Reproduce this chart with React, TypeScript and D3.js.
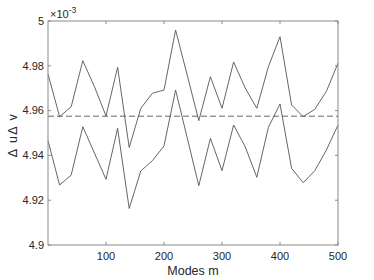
import * as d3 from "d3";

const modes = [0, 20, 40, 60, 80, 100, 120, 140, 160, 180, 200, 220, 240, 260, 280, 300, 320, 340, 360, 380, 400, 420, 440, 460, 480, 500];

const upper = [
  4.97634, 4.95728, 4.96174, 4.98228, 4.97076, 4.95759, 4.97933, 4.94353, 4.96103, 4.96772,
  4.9692, 4.99598, 4.97589, 4.95549, 4.97513, 4.96103, 4.9817, 4.97009, 4.96103, 4.9796,
  4.99299, 4.9625, 4.95728, 4.96058, 4.96862, 4.98112,
];

const lower = [
  4.94656, 4.92679, 4.93125, 4.95281, 4.94107, 4.92933, 4.9521, 4.91629, 4.93304, 4.93763,
  4.9442, 4.9692, 4.9479, 4.92647, 4.94763, 4.93317, 4.95357, 4.94388, 4.93022, 4.95254,
  4.96295, 4.93424, 4.92781, 4.93317, 4.94241, 4.95357,
];

const reference = 4.9575;

const xTicks = [100, 200, 300, 400, 500];
const yTicks = [4.9, 4.92, 4.94, 4.96, 4.98, 5];

export default function App() {
  const width = 374;
  const height = 280;
  const margin = { left: 48, right: 36, top: 21, bottom: 35 };
  const innerW = width - margin.left - margin.right;
  const innerH = height - margin.top - margin.bottom;

  const x = d3.scaleLinear().domain([0, 500]).range([0, innerW]);
  const y = d3.scaleLinear().domain([4.9, 5]).range([innerH, 0]);

  const line = d3
    .line<number>()
    .x((_, i) => x(modes[i]))
    .y((d) => y(d));

  const axisColor = "#8a8a8a";
  const textColor = "#262626";
  const font = "'Liberation Sans', Arial, sans-serif";
  const tick = 3;

  return (
    <svg
      width={width}
      height={height}
      style={{ position: "absolute", left: 0, top: 0, background: "#fff" }}
      fontFamily={font}
    >
      <g transform={`translate(${margin.left},${margin.top})`}>
        {/* data lines */}
        <path d={line(upper) || ""} fill="none" stroke="#555" strokeWidth={0.9} />
        <path d={line(lower) || ""} fill="none" stroke="#555" strokeWidth={0.9} />
        <line
          x1={x(0)}
          x2={x(500)}
          y1={y(reference)}
          y2={y(reference)}
          stroke="#555"
          strokeWidth={0.9}
          strokeDasharray="6,3"
        />

        {/* box */}
        <rect x={0} y={0} width={innerW} height={innerH} fill="none" stroke={axisColor} strokeWidth={1} />

        {/* x ticks */}
        {xTicks.map((t) => (
          <g key={`x${t}`}>
            <line x1={x(t)} x2={x(t)} y1={innerH} y2={innerH - tick} stroke={axisColor} />
            <line x1={x(t)} x2={x(t)} y1={0} y2={tick} stroke={axisColor} />
            <text x={x(t)} y={innerH + 15} textAnchor="middle" fontSize={11} fill={textColor}>
              {t}
            </text>
          </g>
        ))}

        {/* y ticks */}
        {yTicks.map((t) => (
          <g key={`y${t}`}>
            <line x1={0} x2={tick} y1={y(t)} y2={y(t)} stroke={axisColor} />
            <line x1={innerW} x2={innerW - tick} y1={y(t)} y2={y(t)} stroke={axisColor} />
            <text x={-4} y={y(t)} dy="0.35em" textAnchor="end" fontSize={11} fill={textColor}>
              {d3.format("~g")(t)}
            </text>
          </g>
        ))}

        {/* exponent */}
        <text x={2} y={-3} fontSize={11} fill={textColor}>
          ×10
          <tspan dy={-5} fontSize={8.5}>
            -3
          </tspan>
        </text>

        {/* axis labels */}
        <text x={innerW / 2} y={innerH + 30} textAnchor="middle" fontSize={12.5} fill={textColor}>
          Modes m
        </text>
        <text
          transform={`translate(${-31},${innerH / 2 + 2}) rotate(-90)`}
          textAnchor="middle"
          fontSize={12.5}
          letterSpacing={1.5}
          fill={textColor}
        >
          Δ uΔ v
        </text>
      </g>
    </svg>
  );
}
